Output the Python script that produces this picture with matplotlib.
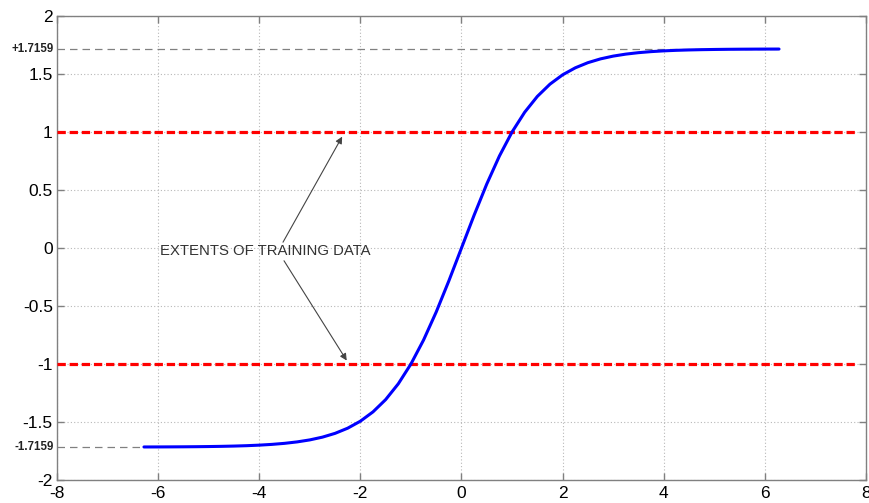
import matplotlib
matplotlib.use("Agg")
import matplotlib.pyplot as plt
from matplotlib.transforms import blended_transform_factory

plt.rcParams['font.family'] = ['Liberation Sans', 'DejaVu Sans']
plt.rcParams['axes.unicode_minus'] = False

# Scaled tanh activation, sampled values
x_vals = [-6.28, -6.0, -5.75, -5.5, -5.25, -5.0, -4.75, -4.5, -4.25, -4.0, -3.75,
          -3.5, -3.25, -3.0, -2.75, -2.5, -2.25, -2.0, -1.75, -1.5, -1.25, -1.0,
          -0.75, -0.5, -0.25, 0.0, 0.25, 0.5, 0.75, 1.0, 1.25, 1.5, 1.75, 2.0,
          2.25, 2.5, 2.75, 3.0, 3.25, 3.5, 3.75, 4.0, 4.25, 4.5, 4.75, 5.0, 5.25,
          5.5, 5.75, 6.0, 6.28]
y_pos = [0.0, 0.2834, 0.5517, 0.7930, 1.0000, 1.1707, 1.3068, 1.4125, 1.4929,
         1.5531, 1.5977, 1.6304, 1.6542, 1.6714, 1.6839, 1.6929, 1.6994, 1.7041,
         1.7074, 1.7098, 1.7115, 1.7128, 1.7137, 1.7143, 1.7148, 1.7151]
y_vals = [-v for v in reversed(y_pos[1:])] + y_pos

asymptote = 1.7159
extent_levels = [1.0, -1.0]
x_ticks = [-8, -6, -4, -2, 0, 2, 4, 6, 8]
y_ticks = [-2, -1.5, -1, -0.5, 0, 0.5, 1, 1.5, 2]
y_tick_labels = ['-2', '-1.5', '-1', '-0.5', '0', '0.5', '1', '1.5', '2']

fig = plt.figure(figsize=(8.7, 5.03), dpi=100)
ax = fig.add_axes([0.0655, 0.0457, 0.9299, 0.9225])

ax.set_xlim(-8, 8)
ax.set_ylim(-2, 2)

# Asymptote markers
ax.plot([-8, x_vals[0]], [-asymptote, -asymptote], color='#808080', lw=0.9,
        dashes=(6, 4), zorder=2)
ax.plot([-8, x_vals[-1]], [asymptote, asymptote], color='#808080', lw=0.9,
        dashes=(6, 4), zorder=2)

# Training data extents
for lvl in extent_levels:
    ax.plot([-8, 7.78], [lvl, lvl], color='#ff0000', lw=2.3, dashes=(2.6, 1.2),
            zorder=3)

ax.plot(x_vals, y_vals, color='#0000ff', lw=2.2, zorder=4, solid_capstyle='round')

ax.text(-5.96, -0.03, 'EXTENTS OF TRAINING DATA', fontsize=10.7, color='#333333',
        ha='left', va='center')
arrow = dict(arrowstyle='-|>', color='#444444', lw=0.8, mutation_scale=10,
             shrinkA=0, shrinkB=0)
ax.annotate('', xy=(-2.36, 0.96), xytext=(-3.53, 0.05), arrowprops=arrow)
ax.annotate('', xy=(-2.27, -0.97), xytext=(-3.51, -0.11), arrowprops=arrow)

ax.set_xticks(x_ticks)
ax.set_yticks(y_ticks)
ax.set_yticklabels(y_tick_labels)
ax.tick_params(direction='in', length=5, width=1, color='#808080',
               labelsize=12.5, labelcolor='black', top=True, right=True, pad=3)
ax.tick_params(axis='x', pad=4)
ax.grid(True, color='#b8b8b8', linestyle=(0, (1, 2)), linewidth=0.8)
for s in ax.spines.values():
    s.set_color('#808080')
    s.set_linewidth(1.0)

trans = blended_transform_factory(ax.transAxes, ax.transData)
ax.text(-0.004, asymptote, '+1.7159', transform=trans, ha='right', va='center',
        fontsize=8.3, fontweight='bold', color='#222222')
ax.text(-0.004, -asymptote, '-1.7159', transform=trans, ha='right', va='center',
        fontsize=8.3, fontweight='bold', color='#222222')

fig.savefig('out.png', dpi=100)
